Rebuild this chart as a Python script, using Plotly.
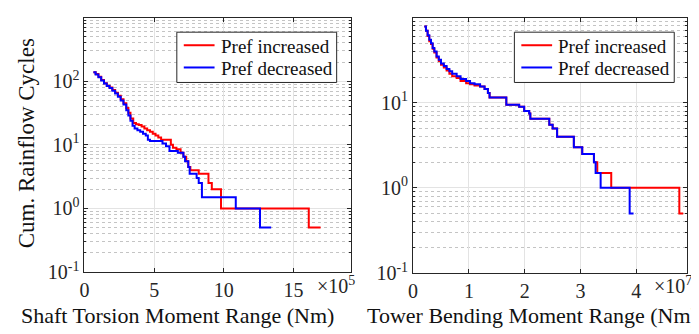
import plotly.graph_objects as go

# ---------------- data (x in units of 1e5 Nm for shaft, 1e7 Nm for tower) ----------------
shaft_inc_x = [0.64, 0.8, 1.0, 1.2, 1.4, 1.6, 1.8, 2.0, 2.2, 2.4, 2.6, 2.8, 3.0, 3.15, 3.3, 3.5, 3.7,
               3.9, 4.1, 4.3, 4.5, 4.7, 4.9, 5.1, 5.3, 5.5, 6.2, 6.35, 6.6, 6.9, 7.1, 7.3, 7.45, 7.6,
               8.2, 8.9, 9.14, 9.8, 16.1, 16.95]
shaft_inc_y = [138, 130, 118, 105, 93, 85, 80, 73, 66, 59, 52, 45, 38, 32, 26, 22, 21,
               20.5, 19.5, 18, 17, 16, 15, 14, 13, 12, 10, 9, 8.5, 7.5, 6.5, 5.5, 4.5, 4,
               3.5, 2.5, 2, 1, 0.5, 0.5]

shaft_dec_x = [0.64, 0.8, 1.0, 1.2, 1.4, 1.6, 1.8, 2.0, 2.2, 2.4, 2.6, 2.8, 3.0, 3.15, 3.3, 3.45, 3.6,
               3.8, 4.0, 4.2, 4.4, 4.55, 4.7, 5.6, 5.85, 6.1, 6.7, 7.1, 7.22, 7.45, 7.55, 8.05, 8.2,
               8.43, 10.86, 12.6, 13.4]
shaft_dec_y = [138, 128, 116, 103, 92, 84, 78, 71, 64, 57, 50, 43, 35, 29, 24, 20, 18,
               17, 16, 15, 14, 12, 11.5, 10.5, 9.5, 8, 7.5, 6.5, 5.5, 4.5, 3.5, 3, 2.5,
               1.5, 1, 0.5, 0.5]

tower_dec_x = [0.2, 0.23, 0.26, 0.29, 0.32, 0.35, 0.38, 0.42, 0.46, 0.5, 0.55, 0.6, 0.65, 0.7, 0.78,
               0.85, 0.95, 1.02, 1.1, 1.2, 1.28, 1.34, 1.37, 1.67, 1.9, 1.99, 2.08, 2.1, 2.44, 2.5,
               2.58, 2.88, 3.03, 3.24, 3.27, 3.36, 3.88, 3.95]
tower_dec_y = [79, 70, 62, 55, 50, 44, 40, 35, 32, 29, 27, 25, 23.5, 22, 20.5,
               19, 18, 17, 16.5, 15.5, 14.5, 13, 11.5, 9.5, 9, 8, 7.5, 6.5, 5.5, 5,
               4, 3, 2.5, 2, 1.5, 1, 0.5, 0.5]

tower_inc_x = [0.2, 0.23, 0.26, 0.29, 0.32, 0.35, 0.38, 0.42, 0.46, 0.5, 0.55, 0.6, 0.65, 0.7, 0.78,
               0.85, 0.95, 1.02, 1.1, 1.2, 1.28, 1.34, 1.37, 1.67, 1.9, 1.99, 2.08, 2.1, 2.44, 2.5,
               2.58, 2.88, 3.03, 3.24, 3.30, 3.55, 4.77, 4.84]
tower_inc_y = [79, 70, 61, 53, 49, 43, 39, 34, 31, 28, 26, 24, 22, 20.5, 19.5,
               18, 17, 16.5, 16, 15.5, 14.5, 13, 11.5, 9.5, 9, 8, 7.5, 6.5, 5.5, 5,
               4, 3, 2.5, 2, 1.5, 1, 0.5, 0.5]

series_names = ["Pref increased", "Pref decreased"]
x_ticks_left = [0, 5, 10, 15]
x_ticks_right = [0, 1, 2, 3, 4]
y_ticks_left = [0.1, 1, 10, 100, 1000]
y_text_left = ["10<sup>-1</sup>", "10<sup>0</sup>", "10<sup>1</sup>", "10<sup>2</sup>", "10<sup>3</sup>"]
y_ticks_right = [0.1, 1, 10, 100]
y_text_right = ["10<sup>-1</sup>", "10<sup>0</sup>", "10<sup>1</sup>", "10<sup>2</sup>"]

RED = "#ff0000"
BLUE = "#0000ff"
FONT = "Liberation Serif"
TXT = "#111111"
AX = "#262626"
W, H = 699, 334


def px(x):
    return x / W


def py(y):
    return 1 - y / H


fig = go.Figure()
fig.add_trace(go.Scatter(x=shaft_inc_x, y=shaft_inc_y, mode="lines", line=dict(color=RED, width=2, shape="hv"),
                         name=series_names[0], xaxis="x", yaxis="y", showlegend=False))
fig.add_trace(go.Scatter(x=shaft_dec_x, y=shaft_dec_y, mode="lines", line=dict(color=BLUE, width=2, shape="hv"),
                         name=series_names[1], xaxis="x", yaxis="y", showlegend=False))
fig.add_trace(go.Scatter(x=tower_inc_x, y=tower_inc_y, mode="lines", line=dict(color=RED, width=2, shape="hv"),
                         name=series_names[0], xaxis="x2", yaxis="y2", showlegend=False))
fig.add_trace(go.Scatter(x=tower_dec_x, y=tower_dec_y, mode="lines", line=dict(color=BLUE, width=2, shape="hv"),
                         name=series_names[1], xaxis="x2", yaxis="y2", showlegend=False))


def minor_vals(lo, hi):
    vals = []
    d = lo
    while d < hi:
        for k in range(2, 10):
            vals.append(k * 10 ** d)
        d += 1
    return vals


common_x = dict(showline=True, linecolor=AX, linewidth=1, mirror="ticks", ticks="inside", ticklen=4,
                tickcolor=AX, showgrid=True, gridcolor="#e3e3e3", gridwidth=1, zeroline=False,
                tickfont=dict(family=FONT, size=20, color=AX), tickmode="array")
common_y = dict(type="log", showline=True, linecolor=AX, linewidth=1, mirror="ticks", ticks="inside",
                ticklen=4, tickcolor=AX, showgrid=True, gridcolor="#e3e3e3", gridwidth=1, zeroline=False,
                tickfont=dict(family=FONT, size=20, color=AX), tickmode="array")

# custom legends (box, line samples, labels) in pixel positions
shapes = []
annotations = []
for left in (165, 505):
    shapes.append(dict(type="rect", xref="paper", yref="paper", x0=px(left), x1=px(left + 161),
                       y0=py(77), y1=py(25), line=dict(color=AX, width=1), fillcolor="white", layer="above"))
    for i, (name, col) in enumerate(zip(series_names, [RED, BLUE])):
        yy = 38.5 + 23 * i
        shapes.append(dict(type="line", xref="paper", yref="paper", x0=px(left + 7), x1=px(left + 38),
                           y0=py(yy), y1=py(yy), line=dict(color=col, width=2), layer="above"))
        annotations.append(dict(text=name, x=px(left + 42), y=py(yy + 1), xref="paper", yref="paper",
                                xanchor="left", yanchor="middle", showarrow=False,
                                font=dict(family=FONT, size=19, color=TXT)))

annotations += [
    dict(text="Shaft Torsion Moment Range (Nm)", x=px(166), y=py(318), xref="paper", yref="paper",
         xanchor="center", yanchor="middle", showarrow=False, font=dict(family=FONT, size=22, color=TXT)),
    dict(text="Tower Bending Moment Range (Nm)", x=px(523), y=py(318), xref="paper", yref="paper",
         xanchor="center", yanchor="middle", showarrow=False, font=dict(family=FONT, size=22, color=TXT)),
    dict(text="Cum. Rainflow Cycles", x=px(13), y=py(140), xref="paper", yref="paper", textangle=-90,
         xanchor="center", yanchor="middle", showarrow=False, font=dict(family=FONT, size=23, color=TXT)),
    dict(text="×10<sup>5</sup>", x=px(304), y=py(286), xref="paper", yref="paper",
         xanchor="left", yanchor="middle", showarrow=False, font=dict(family=FONT, size=20, color=AX)),
    dict(text="×10<sup>7</sup>", x=px(644), y=py(286), xref="paper", yref="paper",
         xanchor="left", yanchor="middle", showarrow=False, font=dict(family=FONT, size=20, color=AX)),
]

fig.update_layout(
    width=W, height=H, margin=dict(l=0, r=0, t=0, b=0),
    paper_bgcolor="white", plot_bgcolor="white",
    font=dict(family=FONT, color=AX),
    showlegend=False,
    xaxis=dict(common_x, domain=[px(72), px(340)], range=[0, 19.1], tickvals=x_ticks_left,
               ticktext=[str(v) for v in x_ticks_left], anchor="y"),
    yaxis=dict(common_y, domain=[py(273), py(10)], range=[-1, 3], tickvals=y_ticks_left, ticktext=y_text_left,
               anchor="x",
               minor=dict(tickmode="array", tickvals=minor_vals(-1, 3), ticks="inside", ticklen=2,
                          tickcolor=AX, showgrid=True, gridcolor="#c4c4c4", griddash="dot", gridwidth=1)),
    xaxis2=dict(common_x, domain=[px(403), px(679)], range=[0, 4.91], tickvals=x_ticks_right,
                ticktext=[str(v) for v in x_ticks_right], anchor="y2"),
    yaxis2=dict(common_y, domain=[py(274), py(10)], range=[-1, 2], tickvals=y_ticks_right, ticktext=y_text_right,
                anchor="x2",
                minor=dict(tickmode="array", tickvals=minor_vals(-1, 2), ticks="inside", ticklen=2,
                           tickcolor=AX, showgrid=True, gridcolor="#c4c4c4", griddash="dot", gridwidth=1)),
    shapes=shapes,
    annotations=annotations,
)

fig.write_html("out.html")
